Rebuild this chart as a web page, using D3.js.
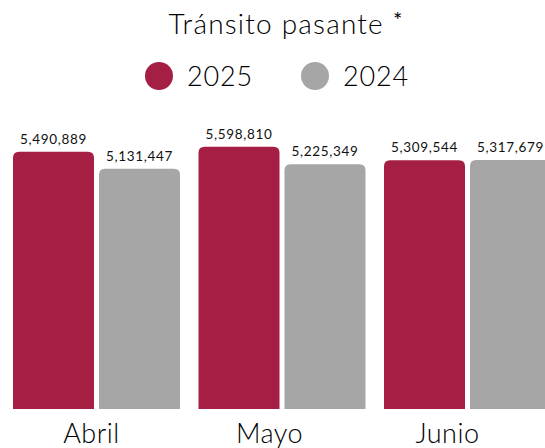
<!DOCTYPE html>
<html><head><meta charset="utf-8">
<script src="https://cdn.jsdelivr.net/npm/d3@7"></script>
<style>html,body{margin:0;padding:0;background:#fff;overflow:hidden}</style>
</head><body>
<svg id="c" width="545" height="448"></svg>
<script>
const categories = ["Abril", "Mayo", "Junio"];
const seriesNames = ["2025", "2024"];
const values2025 = [5490889, 5598810, 5309544];
const values2024 = [5131447, 5225349, 5317679];
const colors = ["#A51F45", "#A6A6A6"];
const title = "Tránsito pasante";

const svg = d3.select("#c");
const font = "Lato, 'Open Sans', sans-serif";
const textColor = "#111";

const x0 = d3.scaleBand().domain(categories).range([13, 551]).paddingInner(18.5/185.5).paddingOuter(0);
const x1 = d3.scaleBand().domain(seriesNames).range([0, x0.bandwidth()]).paddingInner(5/86);
const xLab = d3.scaleBand().domain(categories).range([2.5, 536.5]);
const y = d3.scaleLinear().domain([0, 6000000]).range([409, 128]);
const color = d3.scaleOrdinal().domain(seriesNames).range(colors);

const data = categories.map((c, i) => ({cat: c, vals: [
  {s: "2025", v: values2025[i]}, {s: "2024", v: values2024[i]}]}));

function topRounded(x, yTop, w, yBot, r) {
  return `M${x},${yBot}V${yTop + r}Q${x},${yTop} ${x + r},${yTop}H${x + w - r}Q${x + w},${yTop} ${x + w},${yTop + r}V${yBot}Z`;
}

const fmt = d3.format(",");
const g = svg.selectAll("g.grp").data(data).join("g").attr("class", "grp")
  .attr("transform", d => `translate(${x0(d.cat)},0)`);
g.selectAll("path").data(d => d.vals).join("path")
  .attr("d", d => topRounded(x1(d.s), y(d.v), x1.bandwidth(), y(0), 6))
  .attr("fill", d => color(d.s));
g.selectAll("text").data(d => d.vals).join("text")
  .attr("x", d => x1(d.s) + x1.bandwidth() / 2)
  .attr("y", d => y(d.v) - 8)
  .attr("text-anchor", "middle")
  .attr("font-family", font).attr("font-size", 13.5).attr("font-weight", 400)
  .attr("letter-spacing", 0.7).attr("fill", textColor)
  .text(d => fmt(d.v));

// category labels
svg.selectAll("text.cat").data(categories).join("text").attr("class", "cat")
  .attr("x", d => xLab(d) + xLab.bandwidth() / 2)
  .attr("y", 443)
  .attr("text-anchor", "middle")
  .attr("font-family", font).attr("font-size", 27).attr("font-weight", 300)
  .attr("letter-spacing", 0.5).attr("fill", "#000")
  .text(d => d);

// title
const t = svg.append("text").attr("x", 286).attr("y", 34).attr("text-anchor", "middle")
  .attr("font-family", font).attr("font-size", 28).attr("font-weight", 300)
  .attr("letter-spacing", 1.2).attr("fill", "#000");
t.append("tspan").text(title);
t.append("tspan").attr("font-size", 22).attr("font-weight", 400).attr("dy", -6).attr("dx", 9).text("*");

// legend
const legX = [159, 315];
const leg = svg.selectAll("g.leg").data(seriesNames).join("g").attr("class", "leg")
  .attr("transform", (d, i) => `translate(${legX[i]},76)`);
leg.append("circle").attr("r", 14).attr("fill", d => color(d));
leg.append("text").attr("x", 28).attr("y", 10)
  .attr("font-family", font).attr("font-size", 27).attr("font-weight", 300)
  .attr("letter-spacing", 0.8).attr("fill", "#000")
  .text(d => d);
</script>
</body></html>
